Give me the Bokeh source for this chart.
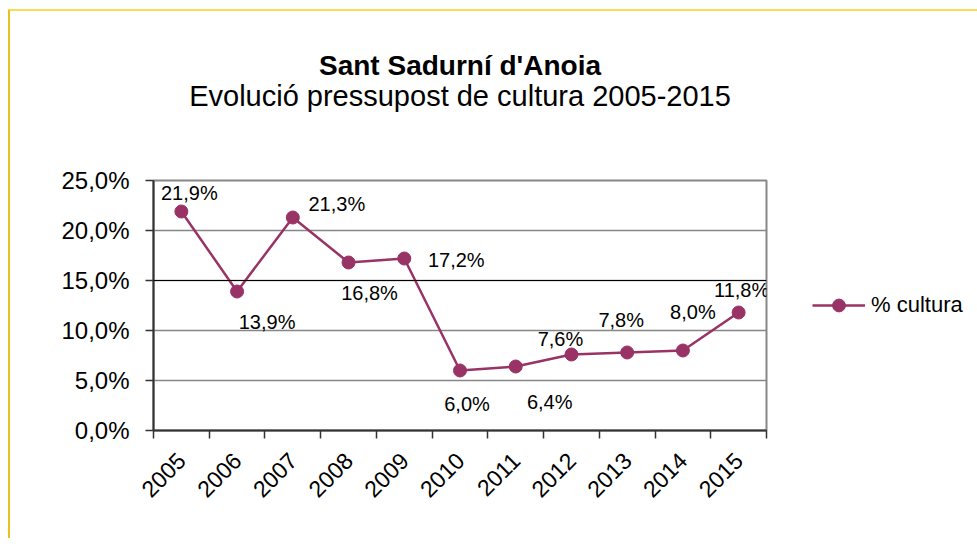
from bokeh.plotting import figure
from bokeh.models import (ColumnDataSource, LabelSet, FixedTicker, Legend, LegendItem,
                          Title, Span, Range1d)
from bokeh.core.properties import value
from bokeh.embed import file_html
from bokeh.resources import INLINE

# ---- data ----
years = ["2005", "2006", "2007", "2008", "2009", "2010", "2011", "2012", "2013", "2014", "2015"]
cultura_pct = [21.9, 13.9, 21.3, 16.8, 17.2, 6.0, 6.4, 7.6, 7.8, 8.0, 11.8]
y_ticks = [0, 5, 10, 15, 20, 25]
y_tick_labels = ["0,0%", "5,0%", "10,0%", "15,0%", "20,0%", "25,0%"]
series_name = "% cultura"
title_text = "Sant Sadurní d'Anoia"
subtitle_text = "Evolució pressupost de cultura 2005-2015"

# label placement offsets (screen px, dy positive = up)
label_dx = [8, 30, 44, 21, 52, 7, 34, -11, -6, 10, 3]
label_dy = [19, -30, 14, -30, -1, -33, -35, 16, 33, 39, 23]

FONT = "Liberation Sans"
COLOR = "#993366"

xpos = [i + 0.5 for i in range(len(years))]
src = ColumnDataSource(dict(
    x=xpos, y=cultura_pct,
    lbl=[("%.1f%%" % v).replace(".", ",") for v in cultura_pct],
    dx=label_dx, dy=label_dy,
))

p = figure(width=956, height=527, frame_width=613, frame_height=250,
           output_backend="svg", toolbar_location=None,
           title=None, x_range=Range1d(0, len(years)), y_range=Range1d(0, 25),
           min_border_left=143, min_border_top=169, min_border_bottom=108,
           min_border_right=200, background_fill_color="white",
           border_fill_color="white")
p.styles = {"border-top": "2px solid #F5DF55", "border-left": "2px solid #E8C020",
            "margin-top": "9px", "margin-left": "8px"}

# titles (spacer nearest the frame, then subtitle, then title)
p.add_layout(Title(text=" ", text_font_size="1px", standoff=66), "above")
p.add_layout(Title(text=subtitle_text, align="center", text_font=FONT,
                   text_font_size="29px", text_font_style="normal",
                   text_color="black", standoff=0), "above")
p.add_layout(Title(text=title_text, align="center", text_font=FONT,
                   text_font_size="28px", text_font_style="bold",
                   text_color="black", standoff=-7), "above")

# frame
p.outline_line_color = "#888888"
p.outline_line_width = 2

# grids
p.xgrid.visible = False
p.ygrid.ticker = FixedTicker(ticks=y_ticks)
p.ygrid.grid_line_color = "#868686"
p.ygrid.grid_line_width = 1.6
p.add_layout(Span(location=y_ticks[3], dimension="width", line_color="black", line_width=1))

# y axis
ya = p.yaxis[0]
ya.ticker = FixedTicker(ticks=y_ticks)
ya.major_label_overrides = {t: l for t, l in zip(y_ticks, y_tick_labels)}
ya.major_label_text_font = FONT
ya.major_label_text_font_size = "24px"
ya.major_label_text_color = "black"
ya.axis_line_color = "#333333"
ya.axis_line_width = 2
ya.major_tick_line_color = "#333333"
ya.major_tick_line_width = 1.5
ya.major_tick_out = 8
ya.major_tick_in = 0
ya.minor_tick_line_color = None
ya.major_label_standoff = 16

# x axis: labels at category centres, tick marks at boundaries
xa = p.xaxis[0]
xa.ticker = FixedTicker(ticks=xpos, minor_ticks=list(range(len(years) + 1)))
xa.major_label_overrides = {x: y for x, y in zip(xpos, years)}
xa.major_label_orientation = 0.785398
xa.major_label_text_font = FONT
xa.major_label_text_font_size = "23px"
xa.major_label_text_color = "black"
xa.major_tick_line_color = None
xa.major_tick_out = 0
xa.major_tick_in = 0
xa.minor_tick_line_color = "#333333"
xa.minor_tick_line_width = 1.5
xa.minor_tick_out = 8
xa.minor_tick_in = 0
xa.axis_line_color = "#333333"
xa.axis_line_width = 2
xa.major_label_standoff = 18

# series
ln = p.line("x", "y", source=src, line_color=COLOR, line_width=2.5)
sc = p.scatter("x", "y", source=src, size=13, fill_color=COLOR, line_color=COLOR)

labels = LabelSet(x="x", y="y", text="lbl", source=src, x_offset="dx", y_offset="dy",
                  text_align="center", text_baseline="middle", text_font=value(FONT),
                  text_font_size="20px", text_color="black")
p.add_layout(labels)

legend = Legend(items=[LegendItem(label=series_name, renderers=[ln, sc])],
                location="center_left", label_text_font=FONT, label_text_font_size="22px",
                label_text_color="black", glyph_width=53, glyph_height=32,
                label_standoff=6, border_line_color=None, background_fill_alpha=0,
                margin=46, padding=7)
p.add_layout(legend, "right")

open("out.html", "w").write(file_html(p, INLINE))
